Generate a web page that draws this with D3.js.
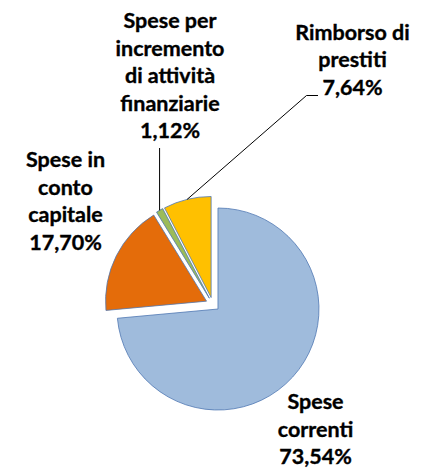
<!DOCTYPE html>
<html>
<head>
<meta charset="utf-8">
<script src="https://cdn.jsdelivr.net/npm/d3@7"></script>
<style>
  body { margin: 0; background: #fff; }
  text { font-family: Lato, "Liberation Sans", sans-serif; font-weight: bold; fill: #000; stroke: #000; stroke-width: 0.35px; }
</style>
</head>
<body>
<script>
var w = 423;
var h = 471;

// data
var categories = ["Spese correnti", "Spese in conto capitale", "Spese per incremento di attività finanziarie", "Rimborso di prestiti"];
var values = [73.54, 17.70, 1.12, 7.64];
var valueLabels = ["73,54%", "17,70%", "1,12%", "7,64%"];
var labelLines = [
    ["Spese", "correnti"],
    ["Spese in", "conto", "capitale"],
    ["Spese per", "incremento", "di attività", "finanziarie"],
    ["Rimborso di", "prestiti"]
];
var colors = ["#9fbbdc", "#e46c0a", "#9bbb59", "#ffc000"];

// layout
var cx = 212.8, cy = 304.3;
var radius = 101;
var explode = 7;
var lineH = 27.5;
var fontSize = 21.5;
// label anchor: centre x, first baseline y
var labelPos = [[315.5, 409], [65.5, 167], [170, 28], [352.5, 39.5]];

var svg = d3.select("body")
    .append("svg")
    .attr("width", w)
    .attr("height", h);

var pie = d3.pie().sort(null).value(function (d) { return d; });
var arcs = pie(values);

var arc = d3.arc().innerRadius(0).outerRadius(radius);

function offset(d) {
    var a = (d.startAngle + d.endAngle) / 2;
    return [explode * Math.sin(a), -explode * Math.cos(a)];
}

//---slices-----
svg.append("g")
    .attr("transform", "translate(" + cx + "," + cy + ")")
    .selectAll("path")
    .data(arcs)
    .enter()
    .append("path")
    .attr("transform", function (d) { var o = offset(d); return "translate(" + o[0] + "," + o[1] + ")"; })
    .attr("d", arc)
    .attr("fill", function (d, i) { return colors[i]; })
    .attr("stroke", "#4f77b3")
    .attr("stroke-width", 0.8);

//---leader lines-----
function outerMid(d) {
    var a = (d.startAngle + d.endAngle) / 2;
    var o = offset(d);
    return [cx + o[0] + radius * Math.sin(a), cy + o[1] - radius * Math.cos(a)];
}

var p2 = outerMid(arcs[2]);
svg.append("path")
    .attr("d", "M" + p2[0] + "," + p2[1] + "L" + p2[0] + ",148")
    .attr("fill", "none")
    .attr("stroke", "#000")
    .attr("stroke-width", 1);

var p3 = outerMid(arcs[3]);
svg.append("path")
    .attr("d", "M" + p3[0] + "," + p3[1] + "L306.5,95.5L318,95.5")
    .attr("fill", "none")
    .attr("stroke", "#000")
    .attr("stroke-width", 1);

//---labels-----
labelLines.forEach(function (lines, i) {
    var all = lines.concat([valueLabels[i]]);
    var t = svg.append("text")
        .attr("text-anchor", "middle")
        .attr("font-size", fontSize);
    all.forEach(function (s, j) {
        t.append("tspan")
            .attr("x", labelPos[i][0])
            .attr("y", labelPos[i][1] + j * lineH)
            .text(s);
    });
});
</script>
</body>
</html>
